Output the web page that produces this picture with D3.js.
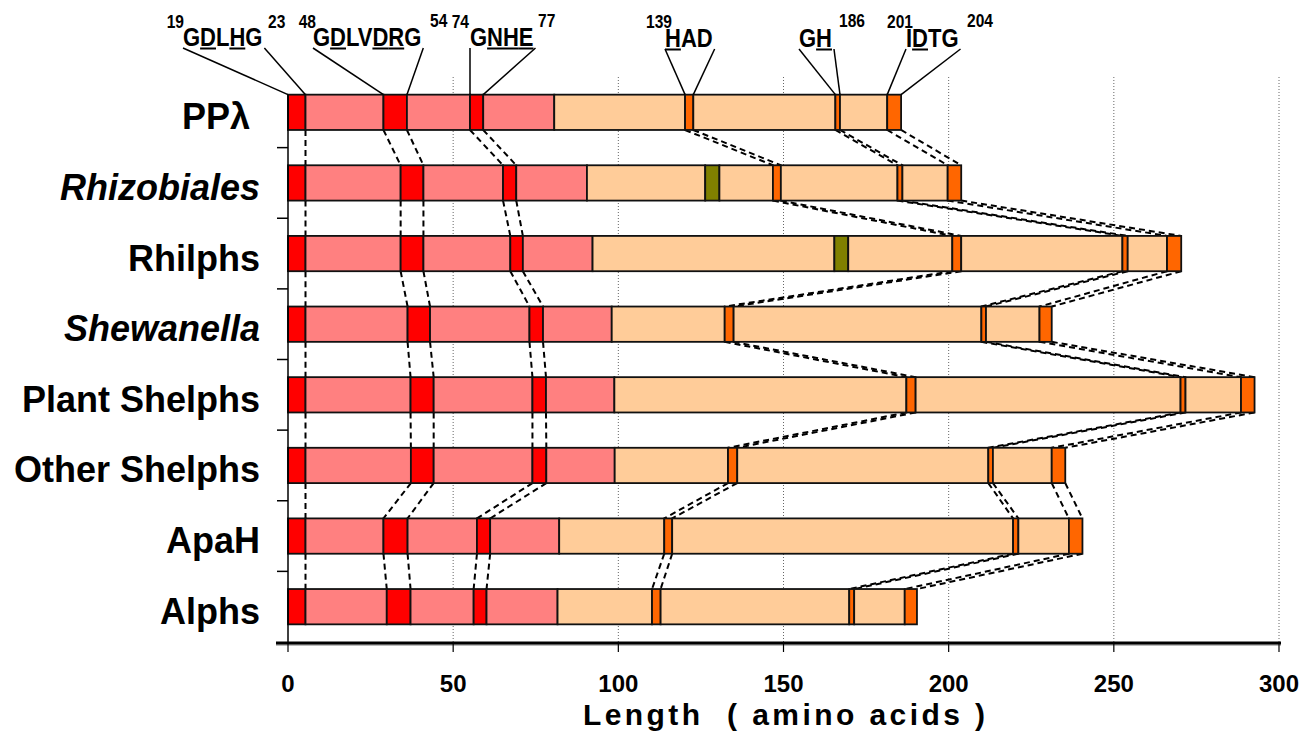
<!DOCTYPE html>
<html>
<head>
<meta charset="utf-8">
<script src="https://cdn.jsdelivr.net/npm/d3@7"></script>
<style>
body { margin: 0; background: #fff; }
text { font-family: "Liberation Sans", Arial, sans-serif; font-weight: bold; fill: #000; }
</style>
</head>
<body>
<div id="chart"></div>
<script>
// categories, top to bottom
var categories = ['PPλ', 'Rhizobiales', 'Rhilphs', 'Shewanella', 'Plant Shelphs', 'Other Shelphs', 'ApaH', 'Alphs'];
var italicCategories = ['Rhizobiales', 'Shewanella'];

// segment edges (amino acid positions) for each row
var segmentEdges = [
    [0, 5.3, 28.9, 36.0, 55.1, 59.1, 80.6, 120.2, 122.7, 165.7, 167.1, 181.4, 185.6],
    [0, 5.3, 34.1, 41.0, 65.1, 69.1, 90.5, 126.3, 130.6, 146.8, 149.2, 184.5, 186.0, 199.7, 203.8],
    [0, 5.3, 34.1, 41.0, 67.3, 71.1, 92.2, 165.4, 169.6, 201.1, 203.8, 252.6, 254.2, 266.1, 270.4],
    [0, 5.3, 36.2, 43.0, 73.1, 77.2, 98.0, 132.2, 134.9, 209.9, 211.3, 227.5, 231.2],
    [0, 5.3, 37.1, 44.1, 74.0, 78.1, 98.8, 187.2, 190.0, 270.2, 271.7, 288.5, 292.6],
    [0, 5.3, 37.2, 44.1, 74.0, 78.2, 98.9, 133.2, 136.0, 212.0, 213.4, 231.2, 235.3],
    [0, 5.3, 28.9, 36.2, 57.2, 61.2, 82.1, 113.9, 116.3, 219.5, 221.1, 236.4, 240.5],
    [0, 5.3, 29.9, 37.1, 56.2, 60.1, 81.6, 110.2, 112.8, 169.9, 171.4, 186.7, 190.4]
];

// segment kinds between the edges
var plainKinds = ['nMotif', 'nDomain', 'nMotif', 'nDomain', 'nMotif', 'nDomain',
    'cDomain', 'cMotif', 'cDomain', 'cMotif', 'cDomain', 'cMotif'];
var insertKinds = ['nMotif', 'nDomain', 'nMotif', 'nDomain', 'nMotif', 'nDomain',
    'cDomain', 'insert', 'cDomain', 'cMotif', 'cDomain', 'cMotif', 'cDomain', 'cMotif'];
var segmentKinds = [plainKinds, insertKinds, insertKinds, plainKinds, plainKinds, plainKinds, plainKinds, plainKinds];

// motif labels over the first bar
var motifNames = ['GDLHG', 'GDLVDRG', 'GNHE', 'HAD', 'GH', 'IDTG'];
var motifUnderlined = [[1, 3], [1, 4, 5], [1, 2, 3], [0], [1], [1]];
var motifStartNumbers = ['19', '48', '74', '139', '', '201'];
var motifEndNumbers = ['23', '54', '77', '', '186', '204'];

var xTicks = [0, 50, 100, 150, 200, 250, 300];

// layout of the motif labels (pixels)
var motifLabelX = [183, 313, 470, 665, 799, 906];
var motifLabelY = [46, 46, 46, 47, 47, 47];
var startNumberEnd = [184, 316, 469, 672, 0, 913];
var endNumberStart = [268, 430, 538, 0, 839, 967];
var endNumberY = [28, 27, 27, 0, 27, 27];

var colors = {
    nMotif: '#ff0000',
    nDomain: '#ff8080',
    cDomain: '#ffcc99',
    cMotif: '#ff6600',
    insert: '#808000'
};

var w = 1313;
var h = 750;

var svg = d3.select('#chart')
    .append('svg')
    .attr('width', w)
    .attr('height', h);

var x = d3.scaleLinear().domain([0, 300]).range([288, 1279]);
var y = d3.scaleBand().domain(categories).range([77, 642])
    .paddingInner(0.5).paddingOuter(0.25);
var bw = y.bandwidth();

// dotted gridlines
svg.append('g').selectAll('line')
    .data(xTicks.slice(1))
    .enter()
    .append('line')
    .attr('x1', d => x(d)).attr('x2', d => x(d))
    .attr('y1', 77).attr('y2', 642)
    .attr('stroke', '#666')
    .attr('stroke-width', 1)
    .attr('stroke-dasharray', '1,2');

// edges of the conserved motifs in a row
function motifEdges(i) {
    var e = segmentEdges[i];
    var out = [];
    segmentKinds[i].forEach(function(k, j) {
        if (k === 'nMotif' || k === 'cMotif') {
            if (e[j] > 0) out.push(e[j]);
            out.push(e[j + 1]);
        }
    });
    return out;
}

// dashed connectors between rows
var links = [];
for (var i = 0; i < categories.length - 1; i++) {
    var a = motifEdges(i), b = motifEdges(i + 1);
    a.forEach(function(v, k) {
        links.push({ x1: v, y1: y(categories[i]) + bw, x2: b[k], y2: y(categories[i + 1]) });
    });
}
svg.append('g').selectAll('line')
    .data(links)
    .enter()
    .append('line')
    .attr('x1', d => x(d.x1)).attr('y1', d => d.y1)
    .attr('x2', d => x(d.x2)).attr('y2', d => d.y2)
    .attr('stroke', '#000')
    .attr('stroke-width', 2)
    .attr('stroke-dasharray', '6,4');

// bars
var segs = [];
categories.forEach(function(c, i) {
    segmentKinds[i].forEach(function(k, j) {
        segs.push({ cat: c, kind: k, x0: segmentEdges[i][j], x1: segmentEdges[i][j + 1] });
    });
});
svg.append('g').selectAll('rect')
    .data(segs)
    .enter()
    .append('rect')
    .attr('x', d => x(d.x0))
    .attr('y', d => y(d.cat))
    .attr('width', d => x(d.x1) - x(d.x0))
    .attr('height', bw)
    .attr('fill', d => colors[d.kind])
    .attr('stroke', '#111')
    .attr('stroke-width', 1.8);

// y axis
var yAxis = svg.append('g');
yAxis.append('line')
    .attr('x1', 288).attr('x2', 288)
    .attr('y1', y(categories[0])).attr('y2', 643)
    .attr('stroke', '#000').attr('stroke-width', 1.5);
yAxis.selectAll('.tick')
    .data(categories.slice(0, -1))
    .enter()
    .append('line')
    .attr('x1', 277).attr('x2', 288)
    .attr('y1', d => y(d) + bw + y.step() * 0.25)
    .attr('y2', d => y(d) + bw + y.step() * 0.25)
    .attr('stroke', '#000').attr('stroke-width', 1.5);
yAxis.selectAll('text')
    .data(categories)
    .enter()
    .append('text')
    .attr('x', d => d === 'PPλ' ? 250 : 260)
    .attr('y', d => y(d) + bw / 2 + 17)
    .attr('text-anchor', 'end')
    .style('font-size', '36px')
    .style('font-style', d => italicCategories.indexOf(d) >= 0 ? 'italic' : 'normal')
    .text(d => d);

// x axis
var xAxis = svg.append('g');
xAxis.append('line')
    .attr('x1', 276).attr('x2', 1281)
    .attr('y1', 645).attr('y2', 645)
    .attr('stroke', '#bbb').attr('stroke-width', 2);
xAxis.append('line')
    .attr('x1', 276).attr('x2', 1281)
    .attr('y1', 643).attr('y2', 643)
    .attr('stroke', '#000').attr('stroke-width', 3);
xAxis.selectAll('.tick')
    .data(xTicks)
    .enter()
    .append('line')
    .attr('x1', d => x(d)).attr('x2', d => x(d))
    .attr('y1', 643).attr('y2', 652)
    .attr('stroke', '#000').attr('stroke-width', 1.2);
xAxis.selectAll('text')
    .data(xTicks)
    .enter()
    .append('text')
    .attr('x', d => x(d))
    .attr('y', 692)
    .attr('text-anchor', 'middle')
    .style('font-size', '24px')
    .text(d => d);

// axis title
svg.append('text')
    .attr('x', 583)
    .attr('y', 725)
    .attr('xml:space', 'preserve')
    .attr('textLength', 402)
    .attr('lengthAdjust', 'spacing')
    .style('white-space', 'pre')
    .style('font-size', '30px')
    .text('Length  ( amino acids )');

// motif labels and leader lines
var topEdges = [0].concat(motifEdges(0));
var squeeze = 0.88;
var ann = svg.append('g');

function number(txt, px, py, anchor) {
    ann.append('text')
        .attr('transform', 'translate(' + px + ',' + py + ') scale(0.82,1)')
        .attr('text-anchor', anchor)
        .style('font-size', '19px')
        .text(txt);
}

motifNames.forEach(function(name, m) {
    var g = ann.append('g')
        .attr('transform', 'translate(' + motifLabelX[m] + ',' + motifLabelY[m] + ') scale(' + squeeze + ',1)');
    var t = g.append('text')
        .attr('x', 0).attr('y', 0)
        .style('font-size', '25px')
        .text(name);
    var node = t.node();
    motifUnderlined[m].forEach(function(ci) {
        var s = node.getStartPositionOfChar(ci).x;
        var e = node.getEndPositionOfChar(ci).x;
        g.append('line')
            .attr('x1', s).attr('x2', e)
            .attr('y1', 2.5).attr('y2', 2.5)
            .attr('stroke', '#000').attr('stroke-width', 2);
    });
    var width = node.getComputedTextLength() * squeeze;
    var top = y(categories[0]);
    ann.append('line')
        .attr('x1', motifLabelX[m]).attr('y1', motifLabelY[m] + 2)
        .attr('x2', x(topEdges[2 * m])).attr('y2', top)
        .attr('stroke', '#000').attr('stroke-width', 1.5);
    ann.append('line')
        .attr('x1', motifLabelX[m] + width + 2).attr('y1', motifLabelY[m] + 2)
        .attr('x2', x(topEdges[2 * m + 1])).attr('y2', top)
        .attr('stroke', '#000').attr('stroke-width', 1.5);
    if (motifStartNumbers[m]) number(motifStartNumbers[m], startNumberEnd[m], 28, 'end');
    if (motifEndNumbers[m]) number(motifEndNumbers[m], endNumberStart[m], endNumberY[m], 'start');
});
</script>
</body>
</html>
